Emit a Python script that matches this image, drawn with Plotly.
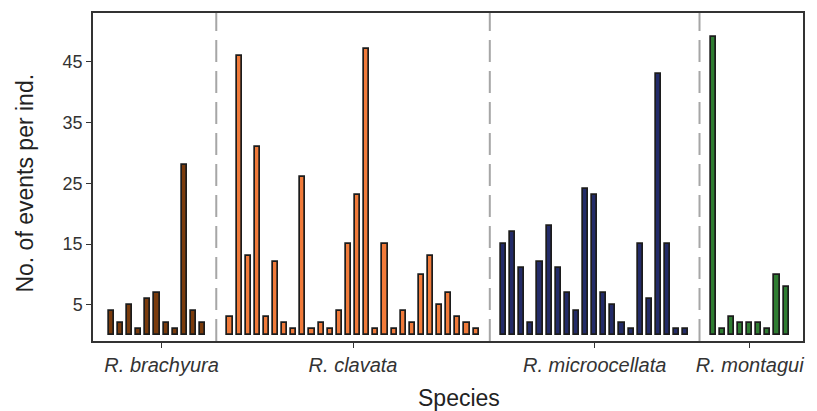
import plotly.graph_objects as go

species = ["R. brachyura", "R. clavata", "R. microocellata", "R. montagui"]
brachyura = [4, 2, 5, 1, 6, 7, 2, 1, 28, 4, 2]
clavata = [3, 46, 13, 31, 3, 12, 2, 1, 26, 1, 2, 1, 4, 15, 23, 47, 1, 15, 1, 4, 2, 10, 13, 5, 7, 3, 2, 1]
microocellata = [15, 17, 11, 2, 12, 18, 11, 7, 4, 24, 23, 7, 5, 2, 1, 15, 6, 43, 15, 1, 1]
montagui = [49, 1, 3, 2, 2, 2, 1, 10, 8]
groups = [brachyura, clavata, microocellata, montagui]
colors = ["#7a3b0c", "#f07a3a", "#232b68", "#2f7d32"]
y_ticks = [5, 15, 25, 35, 45]

GAP = 3
fig = go.Figure()
start = 0
centers = []
separators = []
for i, (name, vals, col) in enumerate(zip(species, groups, colors)):
    xs = [start + k for k in range(len(vals))]
    fig.add_trace(go.Bar(
        x=xs, y=vals, name=name, width=0.56,
        marker=dict(color=col, line=dict(color="#1c1c1c", width=1.7)),
        showlegend=False,
    ))
    centers.append(start + (len(vals) - 1) / 2 + (0.5 if i == 0 else 0))
    end = start + len(vals) - 1
    if i < len(groups) - 1:
        separators.append(end + GAP / 2)
    start = end + GAP

for s in separators:
    fig.add_shape(type="line", xref="x", yref="paper", x0=s, x1=s, y0=0, y1=1,
                  line=dict(color="#a6a6a6", width=2, dash="22px,9px"), layer="below")

fig.update_layout(
    width=817, height=411,
    margin=dict(l=93, r=14, t=11, b=70),
    plot_bgcolor="white", paper_bgcolor="white",
    font=dict(family="Liberation Sans, Arial, sans-serif", color="#333333"),
    bargap=0,
)
fig.update_xaxes(
    range=[-2.02, 75.85], tickmode="array", tickvals=centers,
    ticktext=["<i>%s</i>" % s for s in species],
    ticks="outside", ticklen=5, tickwidth=1, tickcolor="#333333",
    tickfont=dict(size=20, color="#333333"),
    showline=True, linecolor="#333333", linewidth=1.5, mirror=True,
    showgrid=False, zeroline=False,
)
fig.update_yaxes(
    range=[-0.93, 53.0], tickmode="array", tickvals=y_ticks,
    ticks="outside", ticklen=5, tickwidth=1, tickcolor="#333333",
    tickfont=dict(size=18, color="#333333"),
    showline=True, linecolor="#333333", linewidth=1.5, mirror=True,
    showgrid=False, zeroline=False,
)
fig.add_annotation(text="Species", xref="paper", yref="paper", x=0.515, y=0,
                   yshift=-57, yanchor="middle", showarrow=False,
                   font=dict(size=23, color="#222222"))
fig.add_annotation(text="No. of events per ind.", xref="paper", yref="paper", x=0, y=0.48,
                   xshift=-68, xanchor="center", textangle=-90, showarrow=False,
                   font=dict(size=23, color="#222222"))

fig.write_html("out.html")
